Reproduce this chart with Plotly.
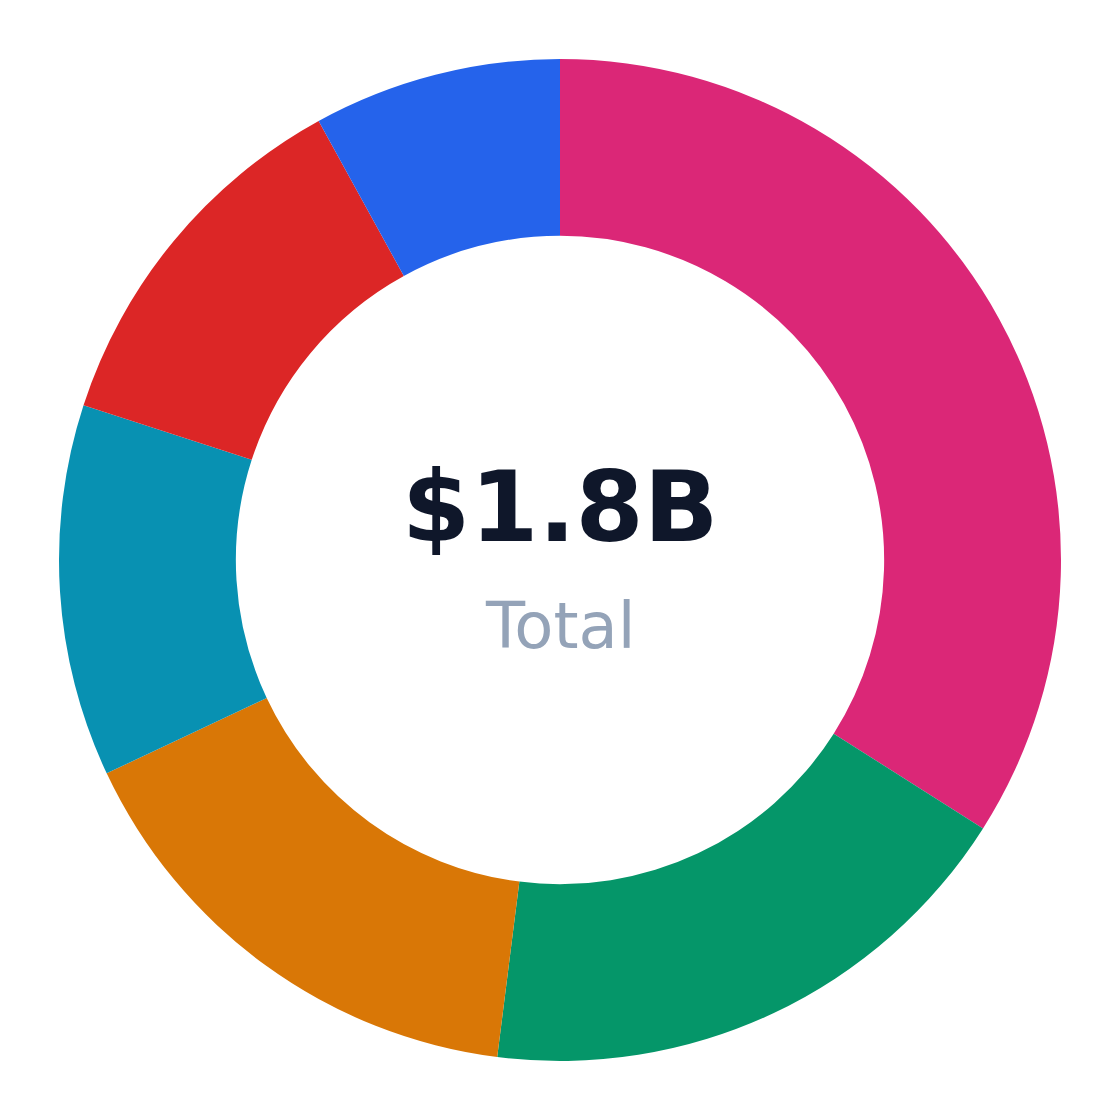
import plotly.graph_objects as go

# Données
segments = ["Enterprise", "Retail", "Wholesale", "Online", "Services", "Other"]
amounts = [612, 324, 288, 216, 216, 144]  # millions
colors = ["#db2777", "#059669", "#d97706", "#0891b2", "#dc2626", "#2563eb"]

total_label = "$1.8B"
sub_label = "Total"

fig = go.Figure()

fig.add_trace(go.Pie(
    labels=segments,
    values=amounts,
    hole=0.647,
    sort=False,
    direction="clockwise",
    rotation=0,
    marker=dict(colors=colors, line=dict(width=0)),
    textinfo="none",
    hoverinfo="label+value+percent",
))

# Texte central
fig.add_annotation(
    text=f"<b>{total_label}</b>", x=0.5, y=0.553, xref="paper", yref="paper",
    showarrow=False, xanchor="center", yanchor="middle",
    font=dict(family="DejaVu Sans", size=98, color="#0f172a"),
)
fig.add_annotation(
    text=sub_label, x=0.5, y=0.434, xref="paper", yref="paper",
    showarrow=False, xanchor="center", yanchor="middle",
    font=dict(family="DejaVu Sans", size=64, color="#94a3b8"),
)

# la page ajoute 8px de marge, on compense
fig.update_layout(
    width=1120,
    height=1120,
    paper_bgcolor="#ffffff",
    plot_bgcolor="#ffffff",
    margin=dict(t=51, b=67, l=51, r=67),
    showlegend=False,
)

fig.write_html("out.html")
